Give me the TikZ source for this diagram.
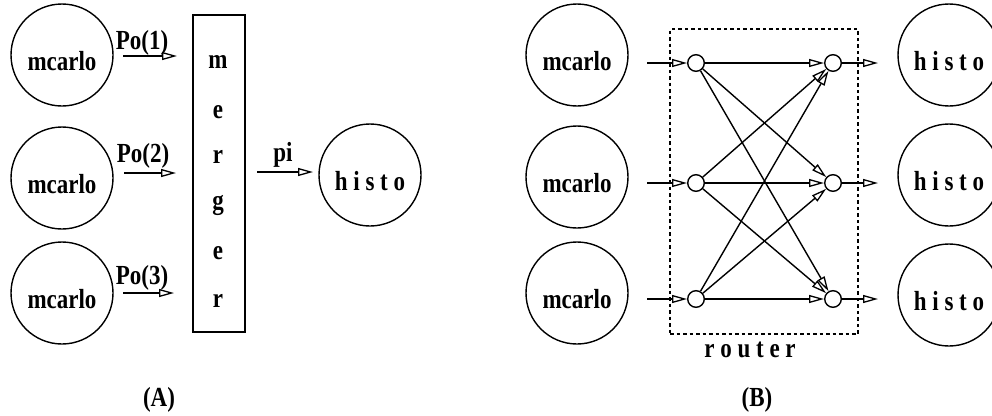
\documentclass[tikz,border=0pt]{standalone}
\usepackage{fontspec}
\setmainfont{Liberation Serif}
\usetikzlibrary{arrows.meta}
\newcommand{\tallx}[1]{\scalebox{1}[1.2]{#1}}
\begin{document}
\begin{tikzpicture}[x=1pt,y=-1pt,
  every node/.style={font=\fontsize{23}{26}\selectfont\bfseries},
  bigc/.style={draw, circle, line width=1.4pt, minimum size=102pt, inner sep=0pt, text height=30pt, text depth=0pt},
  smallc/.style={draw, circle, line width=1.4pt, minimum size=16.6pt, inner sep=0pt},
  lbl/.style={inner sep=0pt},
  arr/.style={line width=1.4pt, -{Triangle[open, length=15pt, width=8pt, line width=1.3pt]}},
  boxr/.style={draw, line width=1.4pt, inner sep=0pt},
  dotbox/.style={draw, line width=1.5pt, dash pattern=on 3.5pt off 3pt, inner sep=0pt}
]
\useasboundingbox (0,0) rectangle (992,415);

% ---------- Panel A ----------
\node[bigc] (a1) at (62,55) {\tallx{mcarlo}};
\node[bigc] (a2) at (62,178) {\tallx{mcarlo}};
\node[bigc] (a3) at (62,293) {\tallx{mcarlo}};

\node[boxr, minimum width=52pt, minimum height=317pt] (merger) at (219,173.5) {};
\node[lbl] (m1) at (218,62) {\tallx{m}};
\node[lbl] (m2) at (218,112) {\tallx{e}};
\node[lbl] (m3) at (218,157) {\tallx{r}};
\node[lbl] (m4) at (218,205) {\tallx{g}};
\node[lbl] (m5) at (218,253) {\tallx{e}};
\node[lbl] (m6) at (218,301) {\tallx{r}};

\node[bigc] (ha) at (370,175) {\tallx{h i s t o}};

\coordinate (p1s) at (123,56);  \coordinate (p1e) at (177,56);
\coordinate (p2s) at (124,173); \coordinate (p2e) at (176,173);
\coordinate (p3s) at (123,293); \coordinate (p3e) at (174,293);
\draw[arr] (p1s) -- (p1e);
\draw[arr] (p2s) -- (p2e);
\draw[arr] (p3s) -- (p3e);
\node[lbl] (l1) at (142,43) {\tallx{Po(1)}};
\node[lbl] (l2) at (143,156) {\tallx{Po(2)}};
\node[lbl] (l3) at (142,278) {\tallx{Po(3)}};

\coordinate (pis) at (257,172); \coordinate (pie) at (313,172);
\draw[arr] (pis) -- (pie);
\node[lbl] (lpi) at (283,155) {\tallx{pi}};

\node[lbl] (capA) at (159,400) {\tallx{(A)}};

% ---------- Panel B ----------
\node[dotbox, minimum width=188pt, minimum height=305pt] (router) at (764,181.5) {};
\node[lbl] (rlbl) at (750,350) {\tallx{r o u t e r}};

\node[bigc] (b1) at (577,55) {\tallx{mcarlo}};
\node[bigc] (b2) at (577,177) {\tallx{mcarlo}};
\node[bigc] (b3) at (577,293) {\tallx{mcarlo}};

\node[smallc] (L1) at (696,63) {};
\node[smallc] (L2) at (696,183) {};
\node[smallc] (L3) at (696,299) {};
\node[smallc] (R1) at (833,63) {};
\node[smallc] (R2) at (833,183) {};
\node[smallc] (R3) at (833,299) {};

\node[bigc] (h1) at (949,55) {\tallx{h i s t o}};
\node[bigc] (h2) at (949,175) {\tallx{h i s t o}};
\node[bigc] (h3) at (949,295) {\tallx{h i s t o}};

\coordinate (i1) at (647,63);
\coordinate (i2) at (647,183);
\coordinate (i3) at (647,299);
\draw[arr] (i1) -- (L1);
\draw[arr] (i2) -- (L2);
\draw[arr] (i3) -- (L3);

\foreach \i in {1,2,3}{
  \foreach \j in {1,2,3}{
    \draw[arr] (L\i) -- (R\j);
  }
}

\coordinate (o1) at (878,63);
\coordinate (o2) at (878,183);
\coordinate (o3) at (878,299);
\draw[arr] (R1) -- (o1);
\draw[arr] (R2) -- (o2);
\draw[arr] (R3) -- (o3);

\node[lbl] (capB) at (757,400) {\tallx{(B)}};
\end{tikzpicture}
\end{document}
